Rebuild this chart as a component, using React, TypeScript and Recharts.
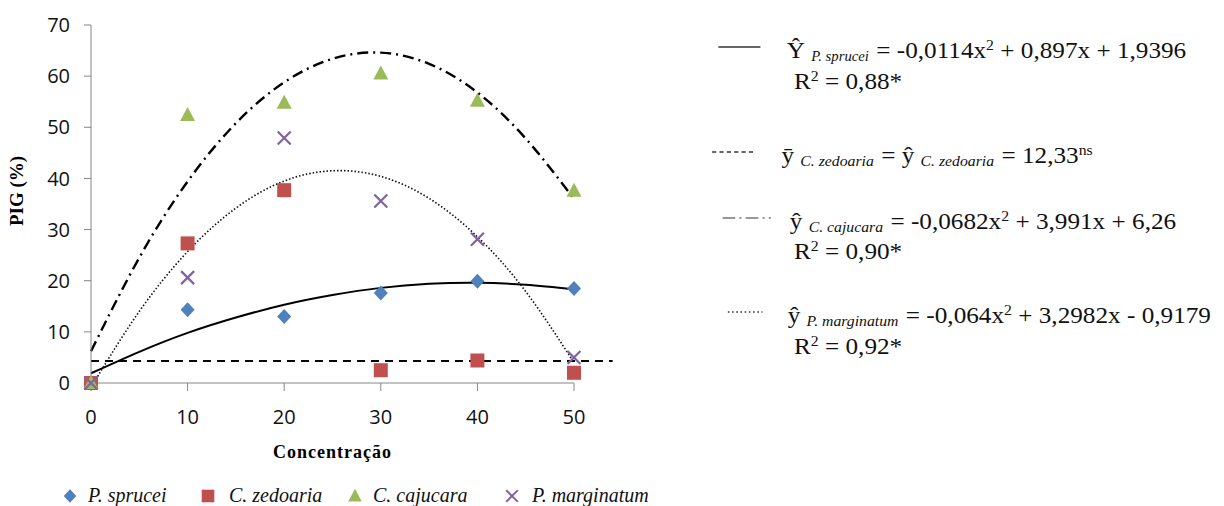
import React from "react";
import { ComposedChart, Label, Line, ReferenceLine, Scatter, XAxis, YAxis } from "recharts";

// observed points (PIG %) per concentration
const concentrations = [0, 10, 20, 30, 40, 50];
const spruceiValues = [0, 14.3, 13.0, 17.6, 19.9, 18.5];
const zedoariaValues = [0, 27.3, 37.7, 2.5, 4.4, 2.0];
const cajucaraValues = [0, 52.4, 54.8, 60.5, 55.2, 37.6];
const marginatumValues = [0, 20.6, 47.9, 35.6, 28.1, 5.0];

// fitted curves
const trendX = [0, 5, 10, 15, 20, 25, 30, 35, 40, 45, 50];
const spruceiTrend = [1.9, 6.1, 9.8, 12.8, 15.3, 17.2, 18.6, 19.4, 19.6, 19.2, 18.3];
const cajucaraTrend = [6.2, 24.5, 39.4, 50.8, 58.8, 63.4, 64.6, 62.4, 56.8, 47.8, 36.0];
const marginatumTrendX = [0.3, 5, 10, 15, 20, 25, 30, 35, 40, 45, 50];
const marginatumTrend = [0.1, 14.0, 25.7, 34.2, 39.5, 41.5, 40.4, 36.1, 28.6, 17.9, 4.0];
const zedoariaMean = 4.3;
const meanLineX = [0, 54];

const yTicks = [0, 10, 20, 30, 40, 50, 60, 70];
const seriesNames = ["P. sprucei", "C. zedoaria", "C. cajucara", "P. marginatum"];

const BLUE = "#4F81BD";
const RED = "#C0504D";
const GREEN = "#9BBB59";
const PURPLE = "#8064A2";
const AXIS = "#868686";
const SERIF = '"Liberation Serif", "Times New Roman", serif';

const toPoints = (xs: number[], ys: number[]) => xs.map((x, i) => ({ x, y: ys[i] }));

const Diamond = ({ cx, cy }: any) => (
  <polygon points={`${cx},${cy - 7.5} ${cx + 7},${cy} ${cx},${cy + 7.5} ${cx - 7},${cy}`} fill={BLUE} />
);
const Square = ({ cx, cy }: any) => <rect x={cx - 7} y={cy - 7} width={14} height={14} fill={RED} />;
const Triangle = ({ cx, cy }: any) => (
  <polygon points={`${cx},${cy - 8} ${cx + 7.5},${cy + 6} ${cx - 7.5},${cy + 6}`} fill={GREEN} />
);
const Cross = ({ cx, cy }: any) => (
  <g stroke={PURPLE} strokeWidth={2.2}>
    <line x1={cx - 6.5} y1={cy - 6.5} x2={cx + 6.5} y2={cy + 6.5} />
    <line x1={cx - 6.5} y1={cy + 6.5} x2={cx + 6.5} y2={cy - 6.5} />
  </g>
);

const legendMarkers = [Diamond, Square, Triangle, Cross];
const legendMarkerX = [70, 208, 355, 512];
const legendTextX = [88, 229, 373, 532];

function Sample({ x1, x2, dash, width = 1.3 }: { x1: number; x2: number; dash?: string; width?: number }) {
  return (
    <svg style={{ position: "absolute", left: 0, top: 0, overflow: "visible" }} width={1} height={1}>
      <line x1={x1} y1={0} x2={x2} y2={0} stroke="#333" strokeWidth={width} strokeDasharray={dash} />
    </svg>
  );
}

function Row({ top, textX, sample, children }: { top: number; textX: number; sample?: React.ReactNode; children: React.ReactNode }) {
  return (
    <div style={{ position: "absolute", left: 0, top, height: 24, width: 520 }}>
      <div style={{ position: "absolute", left: 0, top: 14 }}>{sample}</div>
      <div style={{ position: "absolute", left: textX, top: 0, whiteSpace: "nowrap", fontSize: 24, lineHeight: "24px" }}>
        {children}
      </div>
    </div>
  );
}

const Sub = ({ children, size = 15 }: { children: React.ReactNode; size?: number }) => (
  <span style={{ fontSize: size, fontStyle: "italic", verticalAlign: -3, margin: "0 1px 0 6px" }}>{children}</span>
);
const Sup = ({ children }: { children: React.ReactNode }) => (
  <span style={{ fontSize: 15, verticalAlign: 8 }}>{children}</span>
);

export default function App() {
  return (
    <div style={{ position: "absolute", left: 0, top: 0, width: 1224, height: 506, background: "#fff", overflow: "hidden" }}>
      <ComposedChart width={640} height={469} margin={{ top: 25, right: 66, bottom: 0, left: 0 }}>
        <XAxis
          type="number"
          dataKey="x"
          domain={[0, 50]}
          ticks={concentrations}
          height={86}
          axisLine={{ stroke: AXIS }}
          tickLine={{ stroke: AXIS }}
          tickSize={8}
          tickMargin={19}
          tick={{ fill: "#111", fontSize: 20, fontFamily: '"Open Sans", sans-serif' }}
        >
          <Label
            value="Concentração"
            position="insideBottom"
            offset={11}
            style={{ fontFamily: SERIF, fontWeight: 700, fontSize: 18, letterSpacing: 1, fill: "#000" }}
          />
        </XAxis>
        <YAxis
          type="number"
          dataKey="y"
          domain={[0, 70]}
          ticks={yTicks}
          width={91}
          axisLine={{ stroke: AXIS }}
          tickLine={{ stroke: AXIS }}
          tickSize={7}
          tickMargin={14}
          tick={{ fill: "#111", fontSize: 20, fontFamily: '"Open Sans", sans-serif' }}
        >
          <Label
            content={() => (
              <text
                x={23}
                y={191}
                transform="rotate(-90 23 191)"
                textAnchor="middle"
                style={{ fontFamily: SERIF, fontWeight: 700, fontSize: 19, fill: "#000" }}
              >
                PIG (%)
              </text>
            )}
          />
        </YAxis>

        <Scatter name={seriesNames[0]} data={toPoints(concentrations, spruceiValues)} dataKey="y" shape={Diamond} isAnimationActive={false} />
        <Scatter name={seriesNames[1]} data={toPoints(concentrations, zedoariaValues)} dataKey="y" shape={Square} isAnimationActive={false} />
        <Scatter name={seriesNames[2]} data={toPoints(concentrations, cajucaraValues)} dataKey="y" shape={Triangle} isAnimationActive={false} />
        <Scatter name={seriesNames[3]} data={toPoints(concentrations, marginatumValues)} dataKey="y" shape={Cross} isAnimationActive={false} />

        <ReferenceLine
          segment={[
            { x: meanLineX[0], y: zedoariaMean },
            { x: meanLineX[1], y: zedoariaMean },
          ]}
          ifOverflow="visible"
          stroke="#000"
          strokeWidth={2}
          strokeDasharray="8 6"
        />
        <Line
          data={toPoints(trendX, spruceiTrend)}
          dataKey="y"
          type="natural"
          stroke="#000"
          strokeWidth={2}
          dot={false}
          isAnimationActive={false}
        />
        <Line
          data={toPoints(trendX, cajucaraTrend)}
          dataKey="y"
          type="natural"
          stroke="#000"
          strokeWidth={2.4}
          strokeDasharray="11 5 2 5"
          dot={false}
          isAnimationActive={false}
        />
        <Line
          data={toPoints(marginatumTrendX, marginatumTrend)}
          dataKey="y"
          type="natural"
          stroke="#111"
          strokeWidth={1.6}
          strokeDasharray="1.5 2"
          dot={false}
          isAnimationActive={false}
        />
      </ComposedChart>

      {/* legend */}
      <svg style={{ position: "absolute", left: 0, top: 480 }} width={700} height={26}>
        {seriesNames.map((name, i) => {
          const M = legendMarkers[i];
          return (
            <g key={name}>
              <g transform={`translate(${legendMarkerX[i]},16) scale(0.9) translate(${-legendMarkerX[i]},-16)`}>
                <M cx={legendMarkerX[i]} cy={16} />
              </g>
              <text x={legendTextX[i]} y={22} style={{ fontFamily: SERIF, fontStyle: "italic", fontSize: 20, fill: "#111" }}>
                {name}
              </text>
            </g>
          );
        })}
      </svg>

      {/* regression equations */}
      <div
        style={{
          position: "absolute",
          left: 710,
          top: 0,
          width: 480,
          height: 400,
          transform: "scaleX(1.05)",
          transformOrigin: "0 0",
          fontFamily: SERIF,
          color: "#111",
        }}
      >
        <Row top={33} textX={73} sample={<Sample x1={8} x2={48} />}>
          Ŷ<Sub size={14}>P. sprucei</Sub> = -0,0114x<Sup>2</Sup> + 0,897x + 1,9396
        </Row>
        <Row top={64} textX={80}>
          R<Sup>2</Sup> = 0,88*
        </Row>
        <Row top={138} textX={68} sample={<Sample x1={2} x2={44} dash="4 3" width={1.5} />}>
          ȳ<Sub>C. zedoaria</Sub> = ŷ<Sub>C. zedoaria</Sub> = 12,33<Sup>ns</Sup>
        </Row>
        <Row top={204} textX={76} sample={<Sample x1={12} x2={58} dash="12 4 2 4" width={1.2} />}>
          ŷ<Sub>C. cajucara</Sub> = -0,0682x<Sup>2</Sup> + 3,991x + 6,26
        </Row>
        <Row top={234} textX={80}>
          R<Sup>2</Sup> = 0,90*
        </Row>
        <Row top={298} textX={74} sample={<Sample x1={17} x2={50} dash="1.5 2.5" width={1.5} />}>
          ŷ<Sub>P. marginatum</Sub> = -0,064x<Sup>2</Sup> + 3,2982x - 0,9179
        </Row>
        <Row top={329} textX={80}>
          R<Sup>2</Sup> = 0,92*
        </Row>
      </div>
    </div>
  );
}
